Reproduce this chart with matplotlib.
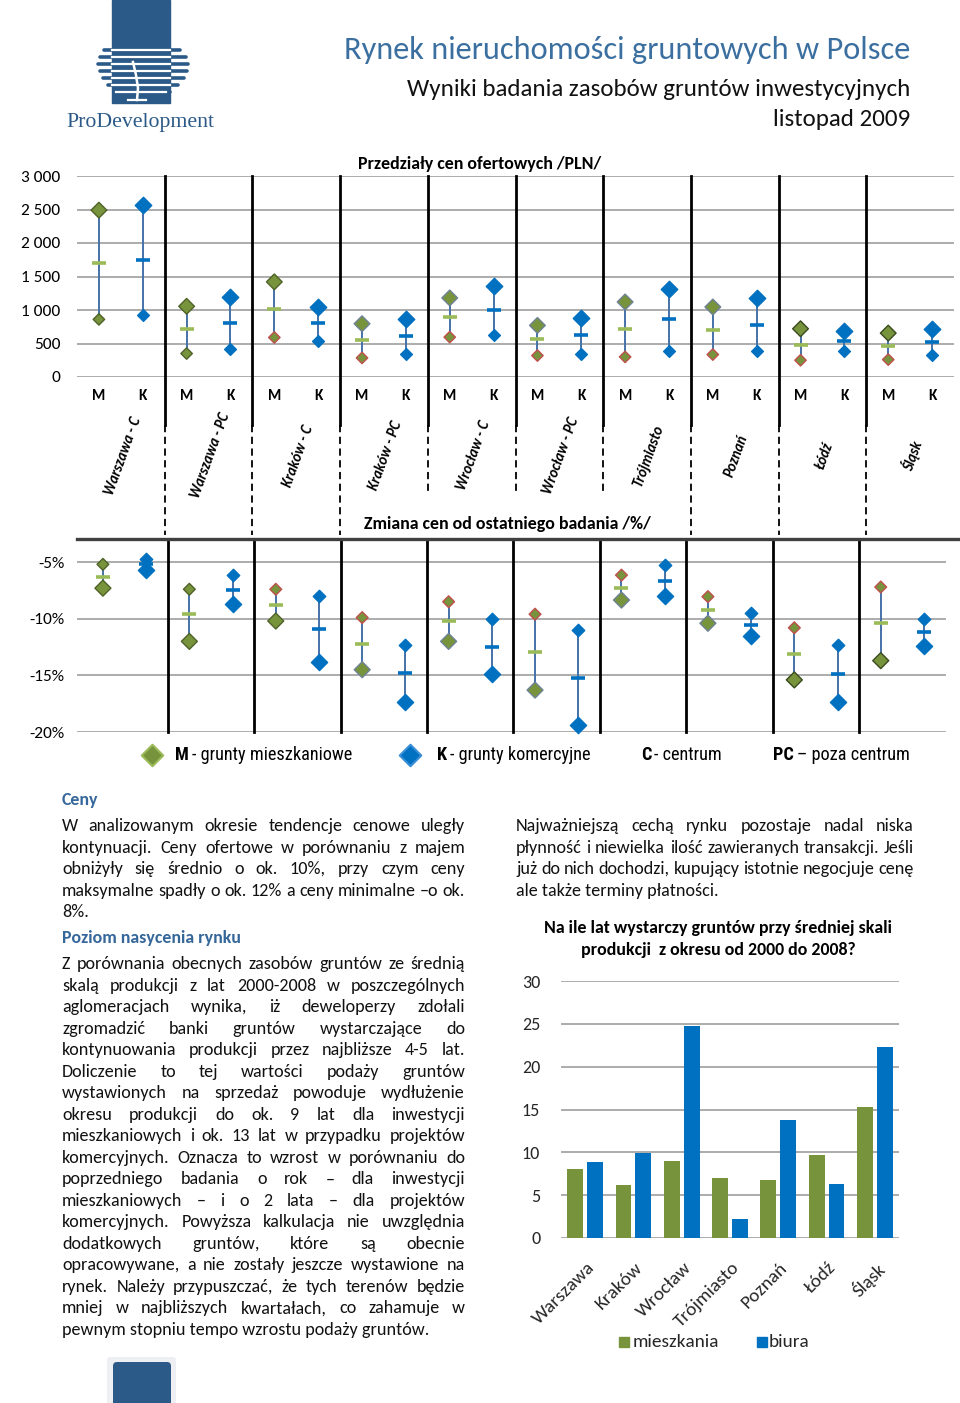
import matplotlib
matplotlib.use('Agg')
import matplotlib.pyplot as plt
from matplotlib import font_manager
from matplotlib.patches import Rectangle, FancyBboxPatch
import numpy as np

# ---------------- data ----------------
groups = ['Warszawa - C', 'Warszawa - PC', 'Kraków - C', 'Kraków - PC', 'Wrocław - C',
          'Wrocław - PC', 'Trójmiasto', 'Poznań', 'Łódź', 'Śląsk']
type_labels = ['M', 'K']

price_m_max = [2490, 1055, 1420, 795, 1180, 770, 1120, 1045, 720, 655]
price_m_avg = [1695, 720, 1015, 550, 890, 560, 720, 700, 485, 470]
price_m_min = [860, 350, 590, 285, 595, 320, 300, 335, 250, 260]
price_k_max = [2560, 1190, 1045, 870, 1355, 875, 1320, 1180, 680, 720]
price_k_avg = [1750, 805, 800, 615, 1005, 625, 870, 780, 535, 520]
price_k_min = [920, 415, 535, 340, 625, 350, 395, 385, 390, 325]
price_ticks = [0, 500, 1000, 1500, 2000, 2500, 3000]

change_m_top = [-5.2, -7.4, -7.4, -9.9, -8.5, -9.6, -6.15, -8.05, -10.8, -7.2]
change_m_avg = [-6.3, -9.6, -8.8, -12.2, -10.2, -12.9, -7.25, -9.25, -13.1, -10.4]
change_m_low = [-7.3, -12.0, -10.2, -14.5, -12.0, -16.3, -8.35, -10.4, -15.4, -13.7]
change_k_top = [-4.75, -6.15, -8.0, -12.3, -10.05, -11.0, -5.3, -9.5, -12.35, -10.0]
change_k_avg = [-5.2, -7.45, -10.9, -14.8, -12.5, -15.2, -6.65, -10.55, -14.85, -11.2]
change_k_low = [-5.7, -8.7, -13.85, -17.35, -14.9, -19.35, -7.95, -11.55, -17.35, -12.4]
change_ticks = [-20, -15, -10, -5]

cities = ['Warszawa', 'Kraków', 'Wrocław', 'Trójmiasto', 'Poznań', 'Łódź', 'Śląsk']
years_flats = [8.05, 6.15, 9.0, 6.95, 6.75, 9.7, 15.3]
years_offices = [8.85, 9.9, 24.8, 2.25, 13.8, 6.35, 22.25]
year_ticks = [0, 5, 10, 15, 20, 25, 30]

# ---------------- styles ----------------
GREEN = '#77933C'
BLUE = '#0070C0'
LGREEN = '#9BBB59'
LINE = '#4472A8'
OLIVE = '#4F6228'
GRAYE = '#6F8296'
DARKE = '#3A4A1E'
REDE = '#C0504D'
HEAD = '#36679A'
LOGO = '#2C5A88'
GRID = '#A6A6A6'

top_m_max_edge = [OLIVE, OLIVE, OLIVE, GRAYE, GRAYE, GRAYE, GRAYE, GRAYE, DARKE, DARKE]
top_m_min_edge = [OLIVE, OLIVE, REDE, REDE, REDE, REDE, REDE, REDE, REDE, REDE]
low_m_top_edge = [OLIVE, OLIVE, REDE, REDE, REDE, REDE, REDE, REDE, REDE, REDE]
low_m_low_edge = [OLIVE, OLIVE, OLIVE, GRAYE, GRAYE, GRAYE, GRAYE, GRAYE, DARKE, DARKE]

W, H = 960, 1403
fig = plt.figure(figsize=(W / 100, H / 100), dpi=100)
fig.patch.set_facecolor('white')

avail = {f.name for f in font_manager.fontManager.ttflist}


def pick(*names):
    for n in names:
        if n in avail:
            return n
    return 'DejaVu Sans'


SANS = pick('Carlito', 'Lato', 'Open Sans')
NARROW = pick('Liberation Sans Narrow', 'Roboto Condensed', 'Liberation Sans')
SERIF = pick('Liberation Serif', 'DejaVu Serif')
plt.rcParams['font.family'] = [SANS, 'DejaVu Sans']
FS = [SANS, 'DejaVu Sans']
FN = [NARROW, 'DejaVu Sans']


def ax_px(x0, y0, x1, y1):
    return fig.add_axes([x0 / W, 1 - y1 / H, (x1 - x0) / W, (y1 - y0) / H])


def clean(ax):
    for s in ax.spines.values():
        s.set_visible(False)
    ax.tick_params(length=0)
    ax.set_axisbelow(True)


# ---------------- top chart: price ranges ----------------
ax1 = ax_px(77, 176, 954, 377)
ax1.set_xlim(-0.5, 19.5)
ax1.set_ylim(0, 3000)
xm = np.arange(len(groups)) * 2
xk = xm + 1
ax1.vlines(xm, price_m_min, price_m_max, color=LINE, lw=1.4, zorder=2)
ax1.vlines(xk, price_k_min, price_k_max, color=LINE, lw=1.4, zorder=2)
ax1.plot(xm, price_m_avg, ls='none', marker='_', ms=10, mew=2.6, color=LGREEN, zorder=3)
ax1.plot(xk, price_k_avg, ls='none', marker='_', ms=10, mew=2.6, color=BLUE, zorder=3)
ax1.scatter(xm, price_m_max, marker='D', s=64, c=GREEN, edgecolors=top_m_max_edge, linewidths=1.0, zorder=4)
ax1.scatter(xm, price_m_min, marker='D', s=34, c=GREEN, edgecolors=top_m_min_edge, linewidths=1.0, zorder=4)
ax1.scatter(xk, price_k_max, marker='D', s=70, c=BLUE, edgecolors=BLUE, linewidths=1.0, zorder=4)
ax1.scatter(xk, price_k_min, marker='D', s=36, c=BLUE, edgecolors=BLUE, linewidths=1.0, zorder=4)
ax1.set_yticks(price_ticks, [f"{v:,}".replace(',', ' ') for v in price_ticks])
ax1.set_xticks(np.arange(20), type_labels * len(groups))
ax1.grid(axis='y', color=GRID, lw=1.3)
clean(ax1)
ax1.tick_params(axis='y', pad=12, labelsize=12.5)
ax1.tick_params(axis='x', pad=9, labelsize=11)
for t in ax1.get_xticklabels():
    t.set_fontweight('bold')

# ---------------- lower chart: price change ----------------
ax2 = ax_px(77, 540, 946, 732)
ax2.set_xlim(-0.6, 19.51)
ax2.set_ylim(-20, -3.05)
ax2.vlines(xm, change_m_low, change_m_top, color=LINE, lw=1.4, zorder=2)
ax2.vlines(xk, change_k_low, change_k_top, color=LINE, lw=1.4, zorder=2)
ax2.plot(xm, change_m_avg, ls='none', marker='_', ms=10, mew=2.6, color=LGREEN, zorder=3)
ax2.plot(xk, change_k_avg, ls='none', marker='_', ms=10, mew=2.6, color=BLUE, zorder=3)
ax2.scatter(xm, change_m_top, marker='D', s=36, c=GREEN, edgecolors=low_m_top_edge, linewidths=1.0, zorder=4)
ax2.scatter(xm, change_m_low, marker='D', s=66, c=GREEN, edgecolors=low_m_low_edge, linewidths=1.0, zorder=4)
ax2.scatter(xk, change_k_top, marker='D', s=40, c=BLUE, edgecolors=BLUE, linewidths=1.0, zorder=4)
ax2.scatter(xk, change_k_low, marker='D', s=68, c=BLUE, edgecolors=BLUE, linewidths=1.0, zorder=4,
            clip_on=False)
ax2.set_yticks(change_ticks, [f"{v}%" for v in change_ticks])
ax2.set_xticks([])
ax2.grid(axis='y', color=GRID, lw=1.3)
clean(ax2)
ax2.tick_params(axis='y', pad=9, labelsize=12.5)

# ---------------- bar chart ----------------
ax3 = ax_px(561, 981, 899, 1238)
ax3.set_xlim(-0.5, 6.5)
ax3.set_ylim(0, 30)
xc = np.arange(len(cities))
ax3.bar(xc - 0.205, years_flats, 0.33, color=GREEN, zorder=3)
ax3.bar(xc + 0.205, years_offices, 0.33, color=BLUE, zorder=3)
ax3.set_yticks(year_ticks)
ax3.set_xticks([])
ax3.grid(axis='y', color=GRID, lw=1.3)
clean(ax3)
ax3.tick_params(axis='y', pad=15, labelsize=13, labelcolor='#262626')

# ---------------- overlay (page layout) ----------------
ov = fig.add_axes([0, 0, 1, 1])
ov.set_xlim(0, W)
ov.set_ylim(H, 0)
ov.axis('off')
renderer = fig.canvas.get_renderer()


def tw(s, size, family, weight='normal', style='normal'):
    t = ov.text(0, 0, s, fontsize=size, family=family, weight=weight, style=style)
    w = t.get_window_extent(renderer).width
    t.remove()
    return w


def fit(s, target, family, weight='normal', style='normal', base=12.0):
    return base * target / tw(s, base, family, weight, style)


def px_x(ax, xv):
    return ax.transData.transform((xv, 0))[0]


# logo
for yy, xl, xr in [(50, 104, 180), (57, 100, 186), (64, 98, 188), (71, 100, 187),
                   (78, 103, 184), (85, 108, 178), (92, 116, 170)]:
    ov.plot([xl, xr], [yy, yy], color=LOGO, lw=2.6, solid_capstyle='round')
ov.add_patch(Rectangle((112, 0), 58, 103, color=LOGO, zorder=3))
for yy, xl, xr in [(50, 112, 170), (57, 112, 170), (64, 112, 170), (71, 112, 170),
                   (78, 112, 170), (85, 112, 170), (92, 116, 166)]:
    ov.plot([xl, xr], [yy, yy], color='white', lw=1.6, zorder=4)
ov.plot([133, 136, 138, 137], [62, 75, 88, 100], color='white', lw=1.8, zorder=5)
ov.plot([128, 146], [100, 100], color='white', lw=1.6, zorder=5)
fs_logo = fit('ProDevelopment', 147, SERIF)
ov.text(140, 122, 'ProDevelopment', fontsize=fs_logo, family=SERIF, color=LOGO,
        ha='center', va='center')

# titles
TITLE = '#3B6FA0'
fs_t = fit('Rynek nieruchomości gruntowych w Polsce', 565, FS, weight='light')
ov.text(910, 50, 'Rynek nieruchomości gruntowych w Polsce', fontsize=fs_t, family=FS,
        weight='light', color=TITLE, ha='right', va='center')
fs_s = fit('Wyniki badania zasobów gruntów inwestycyjnych', 503, FS)
ov.text(910, 89, 'Wyniki badania zasobów gruntów inwestycyjnych', fontsize=fs_s, family=FS,
        color='#111111', ha='right', va='center')
ov.text(910, 120, 'listopad 2009', fontsize=fs_s, family=FS, color='#111111',
        ha='right', va='center')

# chart titles
fs_ct = fit('Przedziały cen ofertowych /PLN/', 243, FS, weight='bold')
ov.text(480, 164, 'Przedziały cen ofertowych /PLN/', fontsize=fs_ct, family=FS,
        weight='bold', ha='center', va='center')
ov.text(507, 524, 'Zmiana cen od ostatniego badania /%/', fontsize=fs_ct, family=FS,
        weight='bold', ha='center', va='center')

# separators
for g in range(len(groups) - 1):
    x1 = px_x(ax1, 2 * g + 1.5)
    ov.plot([x1, x1], [176, 425], color='black', lw=2.0)
    end = 493 if g in (3, 4, 5) else 535
    ov.plot([x1, x1], [425, end], color='black', lw=1.3, ls=(0, (4, 2.5)))
    x2 = px_x(ax2, 2 * g + 1.5)
    ov.plot([x2, x2], [540, 732], color='black', lw=2.0)
ov.plot([77, 960], [539, 539], color='#404040', lw=2.4)

# category labels
fs_cat = fit('Warszawa - C', 82, FS, weight='bold', style='italic')
for g, name in enumerate(groups):
    cx = px_x(ax1, 2 * g + 0.5)
    ov.text(cx + 2, 456, name, fontsize=fs_cat, family=FS, weight='bold', style='italic',
            rotation=70, ha='center', va='center')

# legend of the range charts
fs_lg = fit('M - grunty mieszkaniowe', 178, FN)
ov.scatter([152], [755], marker='D', s=120, c=GREEN, edgecolors=LGREEN, linewidths=1.5)
ov.scatter([410], [755], marker='D', s=120, c=BLUE, edgecolors='#3A8FD8', linewidths=1.5)
for xx, b, rest in [(175, 'M', ' - grunty mieszkaniowe'), (437, 'K', ' - grunty komercyjne'),
                    (641, 'C', ' - centrum'), (773, 'PC', ' – poza centrum')]:
    wb = tw(b, fs_lg, FN, weight='bold')
    ov.text(xx, 755, b, fontsize=fs_lg, family=FN, weight='bold', ha='left', va='center')
    ov.text(xx + wb + 3, 755, rest.strip(), fontsize=fs_lg, family=FN, ha='left', va='center')

# ---------------- text columns ----------------
fs_body = fit('pewnym stopniu tempo wzrostu podaży gruntów.', 366, FS)
fs_head = fit('Poziom nasycenia rynku', 179, FS, weight='bold')


def justify(x0, x1, y, text, last=False):
    words = text.split(' ')
    if last or len(words) == 1:
        ov.text(x0, y, text, fontsize=fs_body, family=FS, color='#111111', ha='left', va='center')
        return
    widths = [tw(w, fs_body, FS) for w in words]
    gap = (x1 - x0 - sum(widths)) / (len(words) - 1)
    x = x0
    for w, wd in zip(words, widths):
        ov.text(x, y, w, fontsize=fs_body, family=FS, color='#111111', ha='left', va='center')
        x += wd + gap


left_x0, left_x1 = 62, 465
ov.text(left_x0, 800, 'Ceny', fontsize=fs_head, family=FS, weight='bold', color=HEAD,
        ha='left', va='center')
para1 = ['W analizowanym okresie tendencje cenowe uległy',
         'kontynuacji. Ceny ofertowe w porównaniu z majem',
         'obniżyły się średnio o ok. 10%, przy czym ceny',
         'maksymalne spadły o ok. 12% a ceny minimalne –o ok.',
         '8%.']
for i, line in enumerate(para1):
    justify(left_x0, left_x1, 826 + 21.55 * i, line, last=(i == len(para1) - 1))
ov.text(left_x0, 938, 'Poziom nasycenia rynku', fontsize=fs_head, family=FS, weight='bold',
        color=HEAD, ha='left', va='center')
para2 = ['Z porównania obecnych zasobów gruntów ze średnią',
         'skalą produkcji z lat 2000-2008 w poszczególnych',
         'aglomeracjach wynika, iż deweloperzy zdołali',
         'zgromadzić banki gruntów wystarczające do',
         'kontynuowania produkcji przez najbliższe 4-5 lat.',
         'Doliczenie to tej wartości podaży gruntów',
         'wystawionych na sprzedaż powoduje wydłużenie',
         'okresu produkcji do ok. 9 lat dla inwestycji',
         'mieszkaniowych i ok. 13 lat w przypadku projektów',
         'komercyjnych. Oznacza to wzrost w porównaniu do',
         'poprzedniego badania o rok – dla inwestycji',
         'mieszkaniowych – i o 2 lata – dla projektów',
         'komercyjnych. Powyższa kalkulacja nie uwzględnia',
         'dodatkowych gruntów, które są obecnie',
         'opracowywane, a nie zostały jeszcze wystawione na',
         'rynek. Należy przypuszczać, że tych terenów będzie',
         'mniej w najbliższych kwartałach, co zahamuje w',
         'pewnym stopniu tempo wzrostu podaży gruntów.']
for i, line in enumerate(para2):
    justify(left_x0, left_x1, 964 + 21.53 * i, line, last=(i == len(para2) - 1))

para3 = ['Najważniejszą cechą rynku pozostaje nadal niska',
         'płynność i niewielka ilość zawieranych transakcji. Jeśli',
         'już do nich dochodzi, kupujący istotnie negocjuje cenę',
         'ale także terminy płatności.']
for i, line in enumerate(para3):
    justify(516, 914, 826 + 21.55 * i, line, last=(i == len(para3) - 1))

# bar chart title, labels and legend
fs_bt = fit('Na ile lat wystarczy gruntów przy średniej skali', 348, FS, weight='bold')
ov.text(718, 928, 'Na ile lat wystarczy gruntów przy średniej skali', fontsize=fs_bt,
        family=FS, weight='bold', ha='center', va='center')
ov.text(718, 950, 'produkcji  z okresu od 2000 do 2008?', fontsize=fs_bt,
        family=FS, weight='bold', ha='center', va='center')
fs_bx = fit('Warszawa', 80, FS)
for i, c in enumerate(cities):
    cx = px_x(ax3, i)
    ov.text(cx + 1, 1259, c, fontsize=fs_bx, family=FS, color='#262626', rotation=45,
            rotation_mode='anchor', ha='right', va='top')
ov.add_patch(Rectangle((619, 1337), 10, 10, color=GREEN))
ov.text(633, 1342, 'mieszkania', fontsize=fs_bx, family=FS, color='#262626', ha='left', va='center')
ov.add_patch(Rectangle((757, 1337), 10, 10, color=BLUE))
ov.text(769, 1342, 'biura', fontsize=fs_bx, family=FS, color='#262626', ha='left', va='center')

# bottom decoration
ov.add_patch(FancyBboxPatch((107, 1357), 69, 60, boxstyle='round,pad=0,rounding_size=3',
                            color='#EDEFF2', lw=0))
ov.add_patch(FancyBboxPatch((113, 1362), 58, 60, boxstyle='round,pad=0,rounding_size=4',
                            color=LOGO, lw=0))

fig.savefig('out.png', dpi=100, facecolor='white')
